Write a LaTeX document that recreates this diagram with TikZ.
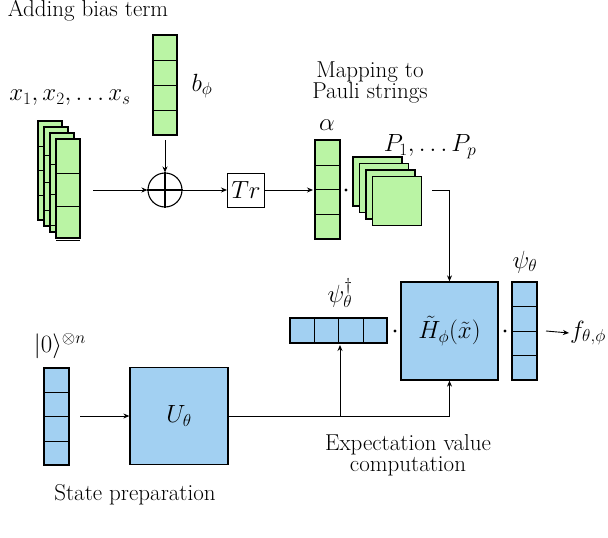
\documentclass[tikz,border=0pt]{standalone}
\usetikzlibrary{arrows.meta}
\definecolor{lg}{RGB}{186,244,164}
\definecolor{lb}{RGB}{162,208,242}
\begin{document}
\begin{tikzpicture}[x=1pt,y=-1pt,
  box/.style={draw,line width=1.3pt},
  grn/.style={box,fill=lg},
  blu/.style={box,fill=lb},
  arr/.style={-{Stealth[length=6pt,width=5pt]},line width=0.9pt},
  lab/.style={font=\fontsize{27}{30}\selectfont,inner sep=1pt},
  txt/.style={align=center,font=\fontsize{23}{21}\selectfont,inner sep=1pt}]
\useasboundingbox (0,0) rectangle (608,538);
\newcommand{\vvec}[5]{% x1 y1 x2 y2 style
  \draw[#5] (#1,#2) rectangle (#3,#4);
  \foreach \k in {1,2,3} \draw[line width=0.5pt] (#1,{#2+\k*(#4-#2)/4}) -- (#3,{#2+\k*(#4-#2)/4});
  \draw[#5,fill=none] (#1,#2) rectangle (#3,#4);}
\node[txt] (t1) at (88,11) {Adding bias term};
\vvec{153}{35}{177}{135}{grn}
\coordinate (bb) at (165,140);
\node[lab] (bl) at (202,86) {$b_\phi$};
\foreach \i in {0,1,2,3} {\vvec{38+6*\i}{121+6*\i}{62+6*\i}{220+6*\i}{grn}}
\node[lab] (xl) at (70,98) {$x_1,x_2,\ldots x_s$};
\coordinate (xs) at (93,190);
\node[draw,circle,line width=1.1pt,minimum size=34pt,inner sep=0] (op) at (165,190) {};
\draw[line width=1.1pt] (op.north)--(op.south) (op.west)--(op.east);
\draw[arr] (bb) -- (op.north);
\draw[arr] (xs) -- (op.west);
\node[draw,line width=1pt,minimum width=37pt,minimum height=34pt,inner sep=0,font=\fontsize{24}{26}\selectfont] (tr) at (246,190) {$Tr$};
\draw[arr] (op.east) -- (tr.west);
\vvec{315}{140}{340}{239}{grn}
\coordinate (al) at (313,190);
\draw[arr] (tr.east) -- (al);
\node[lab] (alab) at (327,125) {$\alpha$};
\fill (346,190) circle (1.6);
\foreach \i in {0,1,2,3} {\draw[grn] (353+6.5*\i,157+6.5*\i) rectangle (402+6.5*\i,206+6.5*\i);}
\node[lab] (pl) at (430,147) {$P_1,\ldots P_p$};
\node[txt] (mp) at (370,82) {Mapping to\\Pauli strings};
\node[blu,minimum width=97pt,minimum height=98pt,inner sep=0,font=\fontsize{27}{30}\selectfont] (H) at (449.5,331) {$\tilde H_\phi(\tilde x)$};
\coordinate (ps) at (432,190);
\draw[arr] (ps) -| (H.north);
\fill (505,331) circle (1.6);
\vvec{512}{282}{537}{380}{blu}
\node[lab] (psl) at (525,262) {$\psi_\theta$};
\node[lab] (f) at (588,333) {$f_{\theta,\phi}$};
\coordinate (fs) at (546,331);
\draw[arr] (fs) -- (f.west);
\draw[blu] (290,318) rectangle (387,343);
\foreach \k in {1,2,3} \draw[line width=0.5pt] (290+\k*24.25,318) -- (290+\k*24.25,343);
\draw[blu,fill=none] (290,318) rectangle (387,343);
\coordinate (pd) at (340,345);
\node[lab] (pdl) at (340,293) {$\psi_\theta^\dagger$};
\fill (395,331) circle (1.6);
\node[lab] (zl) at (60,346) {$|0\rangle^{\otimes n}$};
\vvec{44}{368}{69}{465}{blu}
\coordinate (zs) at (80,416);
\node[blu,minimum width=98pt,minimum height=97pt,inner sep=0,font=\fontsize{27}{30}\selectfont] (U) at (179,416) {$U_\theta$};
\draw[arr] (zs) -- (U.west);
\coordinate (j) at (340,416);
\draw[line width=0.9pt] (U.east) -- (j);
\draw[arr] (j) -| (H.south);
\draw[arr] (j) -- (pd);
\node[txt] (ev) at (408,455) {Expectation value\\computation};
\node[txt] (sp) at (135,495) {State preparation};
\end{tikzpicture}
\end{document}
